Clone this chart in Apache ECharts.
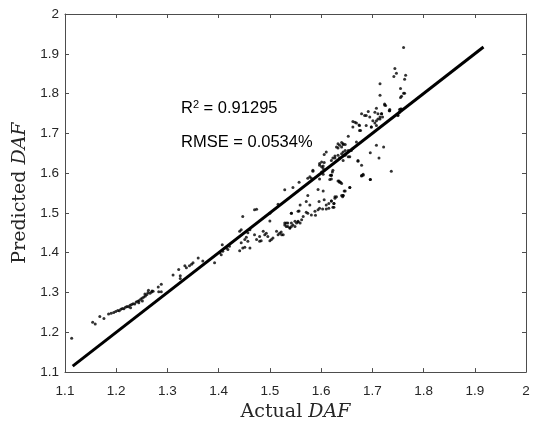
<!DOCTYPE html>
<html>
<head>
<meta charset="utf-8">
<script src="https://cdn.jsdelivr.net/npm/echarts@6/dist/echarts.min.js"></script>
<style>
html,body{margin:0;padding:0;background:#fff;}
#chart{width:534px;height:427px;}
</style>
</head>
<body>
<div id="chart"></div>
<script>
// Axis ranges / ticks
const axisMin = 1.1;
const axisMax = 2;
const tickStep = 0.1;

// Fit line endpoints (actual = predicted)
const fitLine = [[1.115, 1.115], [1.917, 1.917]];

// Annotation texts
const r2Text = '0.91295';
const rmseText = '0.0534%';

// Scatter data: actual DAF values
const actual = [
1.113,1.154,1.159,1.168,1.176,1.185,1.190,1.195,1.199,1.203,1.206,1.209,1.212,1.215,1.218,1.221,1.224,1.227,1.228,1.230,
1.233,1.236,1.239,1.242,1.244,1.245,1.248,1.251,1.251,1.254,1.256,1.257,1.260,1.262,1.263,1.266,1.269,1.270,1.272,1.282,
1.288,1.283,1.288,1.311,1.322,1.325,1.325,1.334,1.337,1.343,1.347,1.350,1.360,1.369,1.392,1.402,1.405,1.408,1.407,1.415,
1.418,1.421,1.441,1.444,1.447,1.470,1.474,1.441,1.447,1.451,1.444,1.451,1.454,1.457,1.461,1.457,1.461,1.470,1.474,1.480,
1.480,1.483,1.487,1.490,1.493,1.496,1.500,1.503,1.506,1.513,1.516,1.519,1.523,1.500,1.500,1.516,1.529,1.532,1.535,1.539,
1.542,1.545,1.552,1.555,1.542,1.555,
1.529,1.545,1.557,1.574,1.578,1.581,1.584,1.597,1.601,1.604,1.606,1.601,1.618,1.622,1.620,1.597,1.604,1.672,1.679,1.682,
1.696,1.633,1.636,1.640,1.656,1.645,1.643,1.642,1.574,1.594,1.604,1.571,1.578,1.559,1.557,1.596,1.606,1.610,1.615,1.620,
1.625,1.627,1.623,1.630,1.571,1.574,1.581,1.588,1.589,1.594,1.597,1.603,1.610,1.615,1.565,1.562,1.559,1.555,1.549,1.542,
1.535,1.529,1.532,1.539,1.542,1.549,1.522,1.526,
1.679,1.685,1.688,1.692,1.695,1.705,1.708,1.711,1.715,1.718,1.724,1.734,1.753,1.757,1.662,1.669,1.662,1.675,1.675,1.688,
1.698,1.701,1.705,1.708,1.711,1.653,1.630,1.633,1.640,1.643,1.647,1.623,1.627,1.636,1.643,1.643,1.653,1.656,1.659,1.662,
1.669,1.708,1.722,1.672,1.696,1.713,1.737,1.679,1.682,1.696,1.623,1.620,1.617,1.635,1.638,1.656,1.647,1.643,1.640,1.627,
1.620,1.625,1.625,
1.715,1.757,1.763,1.724,1.726,1.733,1.753,1.750,1.761,1.744,1.747,1.742,1.765,1.763,1.755,1.761,1.755,1.715,1.734,1.718,
1.720,1.715,1.755,1.750,
1.666,1.674,1.677,1.633,1.636,1.643,1.640,1.647,1.610,1.606,1.620,1.627,1.633,1.640,1.647,1.653,1.601,1.597,1.584,1.604,
1.620,1.679,1.698,1.708
];

// Scatter data: predicted DAF values
const predicted = [
1.185,1.225,1.221,1.240,1.235,1.246,1.248,1.250,1.252,1.255,1.254,1.258,1.260,1.259,1.263,1.265,1.264,1.268,1.262,1.270,
1.272,1.271,1.276,1.278,1.274,1.280,1.284,1.286,1.279,1.289,1.296,1.291,1.295,1.300,1.306,1.298,1.301,1.304,1.303,1.314,
1.321,1.302,1.302,1.344,1.358,1.342,1.335,1.367,1.362,1.367,1.371,1.375,1.387,1.379,1.375,1.400,1.395,1.404,1.420,1.412,
1.408,1.416,1.454,1.458,1.491,1.508,1.509,1.405,1.412,1.414,1.425,1.433,1.439,1.429,1.412,1.450,1.458,1.445,1.433,1.441,
1.429,1.430,1.454,1.445,1.449,1.441,1.430,1.433,1.437,1.454,1.445,1.449,1.445,1.499,1.480,1.522,1.470,1.475,1.466,1.462,
1.475,1.470,1.475,1.477,1.499,1.504,
1.558,1.564,1.577,1.587,1.591,1.587,1.605,1.624,1.616,1.618,1.627,1.603,1.595,1.603,1.585,1.585,1.597,1.630,1.594,1.597,
1.584,1.580,1.577,1.574,1.564,1.555,1.544,1.541,1.544,1.559,1.555,1.529,1.520,1.520,1.505,1.529,1.533,1.520,1.524,1.530,
1.524,1.537,1.514,1.541,1.502,1.499,1.495,1.504,1.494,1.508,1.512,1.510,1.510,1.512,1.491,1.483,1.475,1.479,1.479,1.499,
1.475,1.475,1.466,1.462,1.466,1.466,1.452,1.445,
1.749,1.745,1.745,1.755,1.741,1.753,1.763,1.749,1.741,1.749,1.771,1.757,1.753,1.761,1.730,1.726,1.716,1.720,1.707,1.720,
1.716,1.732,1.726,1.732,1.736,1.693,1.666,1.663,1.677,1.672,1.672,1.638,1.643,1.638,1.653,1.632,1.657,1.641,1.657,1.662,
1.678,1.670,1.666,1.632,1.651,1.638,1.605,1.593,1.595,1.584,1.607,1.595,1.584,1.580,1.577,1.564,1.555,1.544,1.544,1.541,
1.530,1.524,1.514,
1.796,1.793,1.801,1.774,1.770,1.757,1.760,1.745,1.916,1.863,1.851,1.843,1.846,1.836,1.813,1.801,1.790,1.825,1.760,1.749,
1.741,1.736,1.761,1.746,
1.728,1.721,1.707,1.674,1.670,1.674,1.666,1.657,1.653,1.647,1.632,1.638,1.645,1.649,1.645,1.641,1.628,1.620,1.607,1.612,
1.595,1.620,1.716,1.720
];

const points = actual.map((a, i) => [a, predicted[i]]);

const chart = echarts.init(document.getElementById('chart'), null, {renderer: 'canvas'});

const axisColor = '#4d4d4d';
const labelColor = '#262626';
const serif = '"DejaVu Serif", "Liberation Serif", serif';
const sans = '"Liberation Sans", Arial, sans-serif';

function mainAxis(name, gap) {
  return {
    type: 'value', min: axisMin, max: axisMax, interval: tickStep,
    axisLine: {show: true, onZero: false, lineStyle: {color: axisColor, width: 1}},
    axisTick: {show: true, inside: true, length: 4, lineStyle: {color: axisColor}},
    splitLine: {show: false},
    axisLabel: {color: labelColor, fontSize: 13.5, fontFamily: sans},
    name: '{n|' + name + ' }{i|DAF}',
    nameLocation: 'middle',
    nameGap: gap,
    nameTextStyle: {
      rich: {
        n: {fontFamily: serif, fontSize: 19, color: '#262626'},
        i: {fontFamily: serif, fontSize: 19, fontStyle: 'italic', color: '#262626'}
      }
    }
  };
}
function mirrorAxis(pos) {
  return {
    type: 'value', position: pos, min: axisMin, max: axisMax, interval: tickStep,
    axisLine: {show: true, onZero: false, lineStyle: {color: axisColor, width: 1}},
    axisTick: {show: true, inside: true, length: 4, lineStyle: {color: axisColor}},
    axisLabel: {show: false},
    splitLine: {show: false}
  };
}

const xMain = mainAxis('Actual', 28);
xMain.axisLabel.margin = 12;
const yMain = mainAxis('Predicted', 30);
yMain.axisLabel.margin = 6;

chart.setOption({
  animation: false,
  backgroundColor: '#ffffff',
  grid: {left: 65, right: 8, top: 14, bottom: 52, containLabel: false},
  xAxis: [xMain, mirrorAxis('top')],
  yAxis: [yMain, mirrorAxis('right')],
  series: [
    {
      type: 'scatter', xAxisIndex: 0, yAxisIndex: 0,
      data: points, symbol: 'circle', symbolSize: 3,
      itemStyle: {color: '#000'}
    },
    {
      type: 'line', xAxisIndex: 0, yAxisIndex: 0,
      data: fitLine, symbol: 'none',
      lineStyle: {color: '#000', width: 3}, z: 3
    }
  ],
  graphic: [
    {
      type: 'text', left: 181, top: 99,
      style: {
        text: '{a|R}{s|2}{a| = ' + r2Text + '}',
        rich: {
          a: {fontFamily: sans, fontSize: 16.5, fill: '#000'},
          s: {fontFamily: sans, fontSize: 11, fill: '#000', verticalAlign: 'top', padding: [0, 0, 8, 0]}
        }
      }
    },
    {
      type: 'text', left: 181, top: 134,
      style: {text: 'RMSE = ' + rmseText, font: '16.5px "Liberation Sans", Arial, sans-serif', fill: '#000'}
    }
  ]
});
</script>
</body>
</html>
